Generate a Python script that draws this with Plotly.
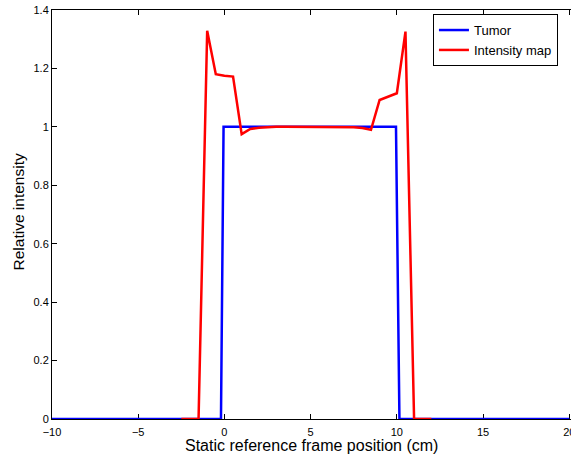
import plotly.graph_objects as go

# Tumor profile (step function) along the static reference frame
tumor_x = [-10, -0.2, -0.05, 9.95, 10.15, 20]
tumor_y = [0, 0, 1, 1, 0, 0]

# Reconstructed intensity map, sampled every 0.5 cm
map_x = [-2.5, -2.0, -1.5, -1.0, -0.5, 0.0, 0.5, 1.0, 1.5, 2.0, 2.5, 3.0, 3.5,
         4.0, 4.5, 5.0, 5.5, 6.0, 6.5, 7.0, 7.5, 8.0, 8.5, 9.0, 9.5, 10.0,
         10.5, 11.0, 11.5, 12.0]
map_y = [0, 0, 0, 1.329, 1.18, 1.175, 1.172, 0.975, 0.993, 0.997, 0.999, 1.0,
         1.0, 1.0, 1.0, 1.0, 1.0, 1.0, 1.0, 1.0, 0.999, 0.996, 0.99, 1.092,
         1.104, 1.115, 1.326, 0, 0, 0]

x_ticks = [-10, -5, 0, 5, 10, 15, 20]
y_ticks = [0, 0.2, 0.4, 0.6, 0.8, 1.0, 1.2, 1.4]
y_tick_text = ["0", "0.2", "0.4", "0.6", "0.8", "1", "1.2", "1.4"]

FONT = "Liberation Sans, Arial, Helvetica, sans-serif"

fig = go.Figure()
fig.add_trace(go.Scatter(x=tumor_x, y=tumor_y, mode="lines", name="Tumor",
                         line=dict(color="#0000FF", width=2.5)))
fig.add_trace(go.Scatter(x=map_x, y=map_y, mode="lines", name="Intensity map",
                         line=dict(color="#FF0000", width=2.5)))

fig.update_layout(
    width=571, height=459,
    margin=dict(l=52, r=0, t=10, b=40),
    paper_bgcolor="white", plot_bgcolor="white",
    font=dict(family=FONT, size=11, color="black"),
    showlegend=True,
    legend=dict(x=0.734, y=0.99, xanchor="left", yanchor="top",
                bordercolor="black", borderwidth=1, bgcolor="white",
                font=dict(family=FONT, size=13), itemwidth=30,
                tracegroupgap=0),
    xaxis=dict(range=[-10, 20.1], tickvals=x_ticks, ticks="inside", ticklen=5,
               tickcolor="black", showline=True, linecolor="black", linewidth=1,
               mirror="ticks", showgrid=False, zeroline=False,
               layer="below traces", automargin=False,
               ticklabeloverflow="allow", ticklabelstandoff=3,
               tickfont=dict(size=11)),
    yaxis=dict(range=[0, 1.4], tickvals=y_ticks, ticktext=y_tick_text,
               ticks="inside", ticklen=5, tickcolor="black", showline=True,
               linecolor="black", linewidth=1, mirror=False, showgrid=False,
               zeroline=False, layer="below traces", automargin=False,
               tickfont=dict(size=11)),
    annotations=[
        dict(text="Static reference frame position (cm)", xref="paper",
             yref="paper", x=0.5, y=-0.066, xanchor="center", yanchor="middle",
             showarrow=False, font=dict(family=FONT, size=16)),
        dict(text="Relative intensity", xref="paper", yref="paper",
             x=-0.0655, y=0.505, xanchor="center", yanchor="middle",
             textangle=-90, showarrow=False,
             font=dict(family=FONT, size=15.5)),
    ],
)

fig.write_html("out.html")
